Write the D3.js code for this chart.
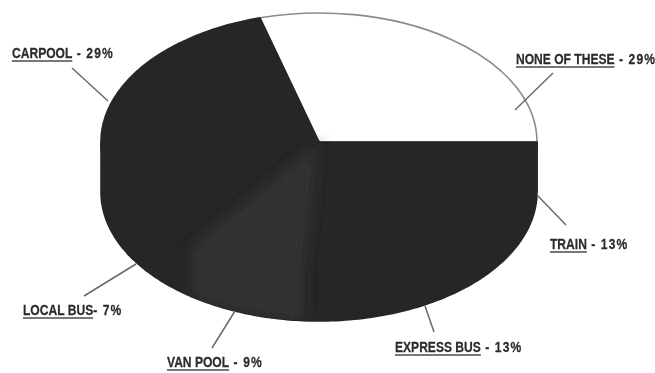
<!DOCTYPE html>
<html><head><meta charset="utf-8">
<script src="https://cdn.jsdelivr.net/npm/d3@7"></script>
<style>html,body{margin:0;padding:0;background:#fff}svg{display:block}
text{font-family:"Liberation Sans",sans-serif;font-weight:700;font-size:15.5px;fill:#2a2a2a;stroke:#2a2a2a;stroke-width:.25}
tspan{letter-spacing:1.4px}</style>
</head><body><svg id="c" width="655" height="373"></svg>
<script>
const categories=["NONE OF THESE","TRAIN","EXPRESS BUS","VAN POOL","LOCAL BUS","CARPOOL"];
const shares=[29,13,13,9,7,29];
const sliceColors=["#ffffff","#262626","#262626","#303030","#262626","#262626"];
const labelAnchors=[[516,64],[550,249],[395,352],[167,367],[23,315],[12,58]];
const leaders=[[[515,110],[553,73]],[[537,195],[566,225]],[[425,306],[434,332]],[[235,311],[212,348]],[[136,264],[84,296]],[[108,101],[72,68]]];

const cx=319,cy=142,rx=218,ry=129,depth=50,squeeze=0.78,topGap=0.023;
const svg=d3.select("#c");
const defs=svg.append("defs");
defs.append("filter").attr("id","soft").attr("x","-30%").attr("y","-30%").attr("width","160%").attr("height","160%")
  .append("feGaussianBlur").attr("stdDeviation",7);
defs.append("filter").attr("id","scan").append("feGaussianBlur").attr("stdDeviation",0.35);

// first slice ends at 3 o'clock; the tiny extra sweep matches how the printed chart was drawn
const sweep=d3.scaleLinear().domain([0,100]).range([0,2*Math.PI]);
const start=-sweep(shares[0])+Math.PI/2-topGap;
const pie=d3.pie().sort(null).value(d=>d).startAngle(start+topGap).endAngle(start+topGap+2*Math.PI);
const arcs=pie(shares);
arcs[0].startAngle-=topGap; arcs[5].endAngle-=topGap;
const arc=d3.arc().innerRadius(0).outerRadius(rx);
const px=a=>cx+rx*Math.sin(a), py=a=>cy-ry*Math.cos(a);
const wall=d3.area().x(a=>px(a)).y0(a=>py(a)).y1(a=>py(a)+depth);
const faceT=`translate(${cx},${cy}) scale(1,${ry/rx})`;
const samples=(lo,hi)=>d3.range(0,41).map(k=>lo+(hi-lo)*k/40);
const root=svg.append("g").attr("filter","url(#scan)");

// base: whole solid
arcs.forEach((d,i)=>{
  const lo=Math.max(d.startAngle,Math.PI/2),hi=Math.min(d.endAngle,3*Math.PI/2);
  if(hi<=lo)return;
  root.append("path").attr("d",wall(samples(lo,hi))).attr("fill","#262626").attr("stroke","#262626").attr("stroke-width",1.6);
});
root.append("g").attr("transform",faceT).selectAll("path").data(arcs).join("path")
 .attr("d",arc).attr("fill",(d,i)=>i===0?"#fff":"#262626")
 .attr("stroke",(d,i)=>i===0?"#8c8c8c":"#262626")
 .attr("stroke-width",1.6).attr("vector-effect","non-scaling-stroke");

// the lighter, mottled van pool slice fades softly into its neighbours
const clip=defs.append("clipPath").attr("id","solid");
clip.append("path").attr("d",wall(samples(Math.PI/2,3*Math.PI/2)));
clip.append("path").attr("transform",faceT).attr("d",d3.arc().innerRadius(0).outerRadius(rx)({startAngle:0,endAngle:2*Math.PI}));
const van=arcs[3];
const vg=root.append("g").attr("clip-path","url(#solid)").append("g").attr("filter","url(#soft)");
vg.append("path").attr("transform",faceT).attr("d",arc(van)).attr("fill",sliceColors[3]);
vg.append("path").attr("d",wall(samples(van.startAngle,van.endAngle))).attr("fill",sliceColors[3]);

// leader lines
root.append("g").selectAll("line").data(leaders).join("line")
 .attr("x1",d=>d[0][0]).attr("y1",d=>d[0][1]).attr("x2",d=>d[1][0]).attr("y2",d=>d[1][1])
 .attr("stroke","#6a6a6a").attr("stroke-width",1.5);
// labels
categories.forEach((c,i)=>{
  const [x,y]=labelAnchors[i];
  const sep=c==="LOCAL BUS"?"- ":" - ";
  const g=root.append("g").attr("transform",`translate(${x},${y}) scale(${squeeze},1)`);
  const t=g.append("text").text(c);
  const uw=t.node().getComputedTextLength();
  t.append("tspan").text(sep+shares[i]+"%");
  g.append("line").attr("x1",0).attr("x2",uw).attr("y1",3).attr("y2",3).attr("stroke","#4a4a4a").attr("stroke-width",1.4);
});
</script></body></html>
